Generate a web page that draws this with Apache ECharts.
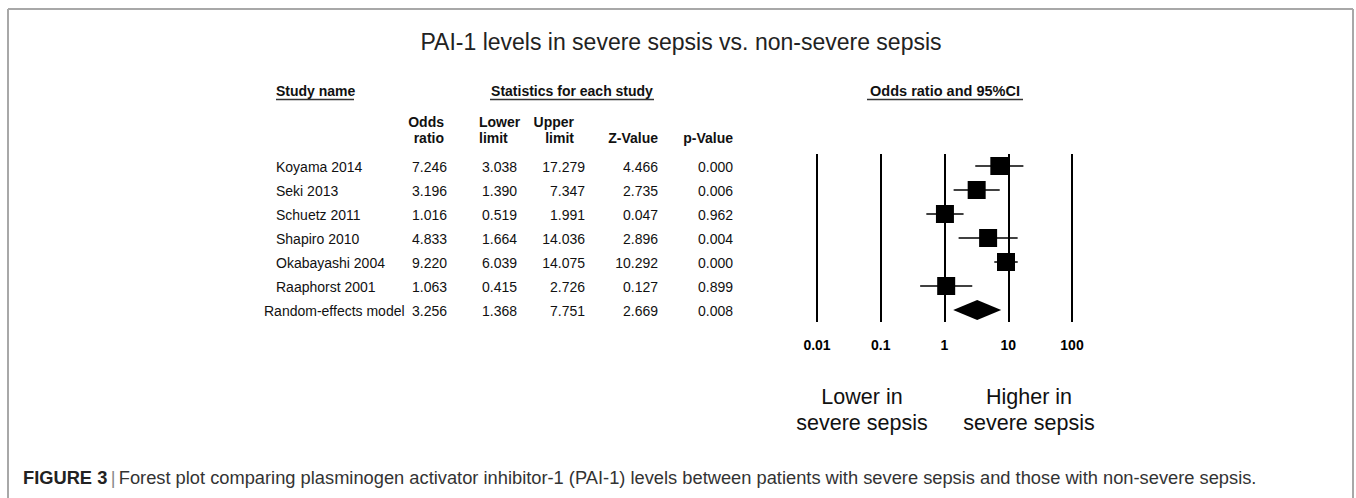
<!DOCTYPE html>
<html><head><meta charset="utf-8">
<script src="https://cdn.jsdelivr.net/npm/echarts@6/dist/echarts.min.js"></script>
<style>html,body{margin:0;padding:0;background:#fff}#c{width:1356px;height:498px}</style>
</head><body><div id="c"></div>
<script>
// ---- data ----
const studies = ['Koyama 2014','Seki 2013','Schuetz 2011','Shapiro 2010','Okabayashi 2004','Raaphorst 2001','Random-effects model'];
const oddsRatio  = [7.246, 3.196, 1.016, 4.833, 9.220, 1.063, 3.256];
const lowerLimit = [3.038, 1.390, 0.519, 1.664, 6.039, 0.415, 1.368];
const upperLimit = [17.279, 7.347, 1.991, 14.036, 14.075, 2.726, 7.751];
const zValue     = [4.466, 2.735, 0.047, 2.896, 10.292, 0.127, 2.669];
const pValue     = [0.000, 0.006, 0.962, 0.004, 0.000, 0.899, 0.008];
const tickLabels = ['0.01','0.1','1','10','100'];
const titleText = 'PAI-1 levels in severe sepsis vs. non-severe sepsis';
const captionText = 'Forest plot comparing plasminogen activator inhibitor-1 (PAI-1) levels between patients with severe sepsis and those with non-severe sepsis.';

const FONT = '"Liberation Sans", Arial, Helvetica, sans-serif';
const nStudy = studies.length - 1;

const chart = echarts.init(document.getElementById('c'), null, {renderer: 'svg'});

const studyRows = studies.slice(0, nStudy).map((s, i) => [lowerLimit[i], upperLimit[i], s, oddsRatio[i]]);
const pooled = [[lowerLimit[nStudy], upperLimit[nStudy], studies[nStudy], oddsRatio[nStudy]]];

chart.setOption({
  animation: false,
  backgroundColor: '#fff',
  grid: {left: 817, right: 284, top: 154, height: 168},
  xAxis: {
    type: 'log', logBase: 10, min: 0.01, max: 100,
    axisLine: {show: false}, axisTick: {show: false},
    splitLine: {show: true, lineStyle: {color: '#000', width: 2}},
    axisLabel: {
      margin: 16, color: '#000', fontWeight: 'bold', fontSize: 14, fontFamily: FONT,
      formatter: v => tickLabels[Math.round(Math.log10(v)) + 2]
    }
  },
  yAxis: {type: 'category', data: studies, inverse: true, show: false},
  series: [
    {
      type: 'custom', z: 3,
      encode: {x: [0, 1], y: 2},
      data: studyRows,
      renderItem: (params, api) => {
        const a = api.coord([api.value(0), api.value(2)]);
        const b = api.coord([api.value(1), api.value(2)]);
        return {type: 'line', shape: {x1: a[0], y1: a[1], x2: b[0], y2: b[1]},
                style: {stroke: '#000', lineWidth: 1.5}};
      }
    },
    {
      type: 'scatter', z: 4, symbol: 'rect', symbolSize: 18,
      itemStyle: {color: '#000', opacity: 1},
      emphasis: {disabled: true},
      data: studies.slice(0, nStudy).map((s, i) => [oddsRatio[i], s])
    },
    {
      type: 'custom', z: 4,
      encode: {x: [0, 1, 3], y: 2},
      data: pooled,
      renderItem: (params, api) => {
        const lo = api.coord([api.value(0), api.value(2)]);
        const hi = api.coord([api.value(1), api.value(2)]);
        const md = api.coord([api.value(3), api.value(2)]);
        const h = 10;
        return {type: 'polygon', shape: {points: [[lo[0], lo[1]], [md[0], md[1] - h], [hi[0], hi[1]], [md[0], md[1] + h]]},
                style: {fill: '#000'}};
      }
    }
  ]
});

// ---- table & annotations (y from the category axis) ----
const rowY = studies.map(s => chart.convertToPixel({yAxisIndex: 0}, s));
const g = [];
function txt(text, x, y, opt) {
  g.push({type: 'text', silent: true, style: Object.assign({
    text: text, x: x, y: y, fill: '#111', font: '14px ' + FONT,
    textAlign: 'left', textVerticalAlign: 'middle'
  }, opt || {})});
}
function ln(x1, y1, x2, y2, stroke, w) {
  g.push({type: 'line', silent: true, shape: {x1, y1, x2, y2}, style: {stroke: stroke, lineWidth: w}});
}
// frame
ln(8, 9, 1353, 9, '#a8a8a8', 2);
ln(8, 9, 8, 498, '#a8a8a8', 2);
ln(1353, 9, 1353, 498, '#a8a8a8', 2);
// title
txt(titleText, 681, 42, {font: '23px ' + FONT, textAlign: 'center', fill: '#222'});
// headers
const HB = 'bold 14px ' + FONT;
txt('Study name', 276, 91, {font: HB});
ln(276, 99.5, 354, 99.5, '#333', 1.5);
txt('Statistics for each study', 572, 91, {font: HB, textAlign: 'center'});
ln(490, 99.5, 654, 99.5, '#333', 1.5);
txt('Odds ratio and 95%CI', 945, 91, {font: 'bold 14.5px ' + FONT, textAlign: 'center'});
ln(867, 99.5, 1023, 99.5, '#333', 1.5);
txt('Odds', 444, 122, {font: HB, textAlign: 'right'});
txt('ratio', 444, 138, {font: HB, textAlign: 'right'});
txt('Lower', 479, 122, {font: HB});
txt('limit', 479, 138, {font: HB});
txt('Upper', 574, 122, {font: HB, textAlign: 'right'});
txt('limit', 574, 138, {font: HB, textAlign: 'right'});
txt('Z-Value', 658, 138, {font: HB, textAlign: 'right'});
txt('p-Value', 733, 138, {font: HB, textAlign: 'right'});
// rows
const colRight = [447, 517, 585, 658, 733];
studies.forEach((s, i) => {
  const y = rowY[i] + 1;
  txt(s, i === nStudy ? 264 : 276, y);
  [oddsRatio[i], lowerLimit[i], upperLimit[i], zValue[i], pValue[i]].forEach((v, k) => {
    txt(v.toFixed(3), colRight[k], y, {textAlign: 'right'});
  });
});
// direction labels
const BF = '21.5px ' + FONT;
txt('Lower in', 862, 397, {font: BF, textAlign: 'center'});
txt('severe sepsis', 862, 423, {font: BF, textAlign: 'center'});
txt('Higher in', 1029, 397, {font: BF, textAlign: 'center'});
txt('severe sepsis', 1029, 423, {font: BF, textAlign: 'center'});
// caption
g.push({type: 'text', silent: true, style: {
  x: 23, y: 477, textVerticalAlign: 'middle', textAlign: 'left',
  text: '{b|FIGURE 3} {s||} {n|' + captionText + '}',
  rich: {
    b: {font: 'bold 18.3px ' + FONT, fill: '#222'},
    s: {font: '18.3px ' + FONT, fill: '#888'},
    n: {font: '18.3px ' + FONT, fill: '#333'}
  }
}});
chart.setOption({graphic: g});
</script></body></html>
